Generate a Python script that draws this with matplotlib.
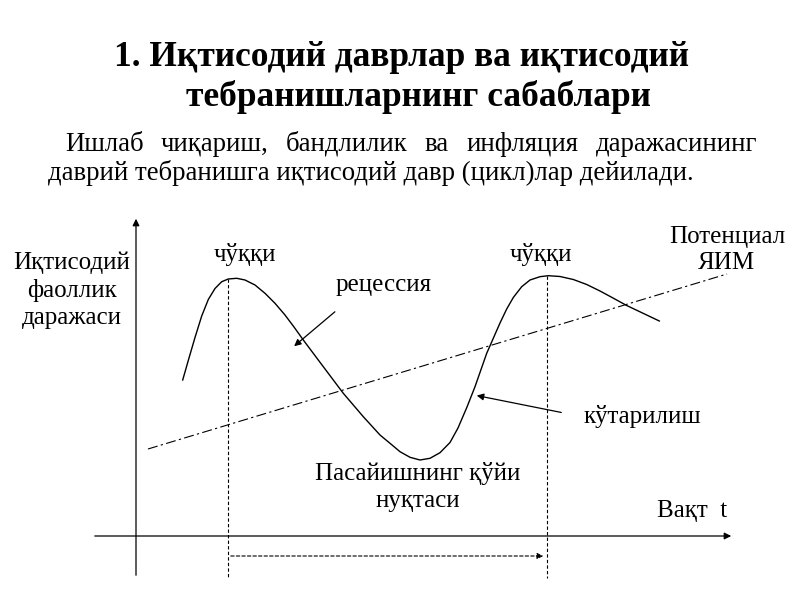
import matplotlib
matplotlib.use("Agg")
import matplotlib.pyplot as plt

plt.rcParams['font.family'] = ['Liberation Serif', 'DejaVu Serif']

# Title and paragraph text
title_lines = ["1. Иқтисодий даврлар ва иқтисодий", "тебранишларнинг сабаблари"]
para_line1 = ["Ишлаб", "чиқариш,", "бандлилик", "ва", "инфляция", "даражасининг"]
para_line2 = "даврий тебранишга иқтисодий давр (цикл)лар дейилади."

# economic activity curve (pixel coords)
curve_x = [182.7, 189, 195, 201.7, 208.3, 215, 221.7, 228.3, 236.7, 245, 255,
           265, 275, 285, 294, 303.3, 323.3, 343.3, 363.3, 380, 390, 400, 410,
           420, 430, 440, 450, 458, 467, 475, 486.7, 500, 506.7, 513.3, 521.7,
           530, 540, 548.3, 560, 573.3, 586.7, 600, 613, 626.7, 646.7, 659.3]
curve_y = [380, 358, 337.5, 316, 299.5, 288.5, 281.7, 279, 278.3, 280, 285,
           293.3, 303.3, 315, 327, 340, 366.7, 393.3, 416.7, 435, 443.3, 451.7, 457.3,
           460, 458.3, 452.7, 442.5, 428, 407, 386.7, 353.3, 323, 309, 297.5, 286.7,
           280, 276.7, 275.7, 276.5, 279.5, 284.5, 291, 298, 305.5, 315, 321]

# potential GDP trend line
trend_x = [148, 727]
trend_y = [449, 274]

# peaks
peak_x = [228, 547]
peak_y = [279, 276]

labels = {
    "ylabel": "Иқтисодий\nфаоллик\nдаражаси",
    "peak": "чўққи",
    "recession": "рецессия",
    "potential": "Потенциал\nЯИМ",
    "rise": "кўтарилиш",
    "trough": "Пасайишнинг қўйи\nнуқтаси",
    "time": "Вақт  t",
}

fig = plt.figure(figsize=(8, 6), dpi=100)
ax = fig.add_axes([0, 0, 1, 1])
ax.set_xlim(0, 800)
ax.set_ylim(600, 0)
ax.axis('off')

# title
ax.text(401, 57, title_lines[0], ha='center', va='center', fontsize=25.5, fontweight='bold')
ax.text(418, 97, title_lines[1], ha='center', va='center', fontsize=25.5, fontweight='bold')

# paragraph, first line justified
fig.canvas.draw()
r = fig.canvas.get_renderer()
words = [ax.text(0, 151, w, ha='left', va='baseline', fontsize=19.3) for w in para_line1]
widths = [w.get_window_extent(r).width for w in words]
x0, x1 = 65, 757
gap = (x1 - x0 - sum(widths)) / (len(words) - 1)
pos = x0
for w, wd in zip(words, widths):
    w.set_x(pos)
    pos += wd + gap
ax.text(48, 180, para_line2, ha='left', va='baseline', fontsize=19.3)

# axes of the diagram
ax.annotate('', xy=(136, 216), xytext=(136, 578),
            arrowprops=dict(arrowstyle='-|>', color='black', lw=0.9, mutation_scale=10))
ax.annotate('', xy=(734, 536), xytext=(92, 536),
            arrowprops=dict(arrowstyle='-|>', color='black', lw=0.9, mutation_scale=10))

# curve and trend
ax.plot(curve_x, curve_y, color='black', lw=1.0)
ax.plot(trend_x, trend_y, color='black', lw=0.8, dashes=(9, 3, 2, 3))

# peak dashed lines
for px, py in zip(peak_x, peak_y):
    ax.plot([px, px], [py, 578], color='black', lw=0.8, dashes=(3, 2))
ax.annotate('', xy=(546, 556), xytext=(228, 556),
            arrowprops=dict(arrowstyle='-|>', color='black', lw=0.8, ls=(0, (3, 2)),
                            mutation_scale=9))

# pointer arrows
ax.annotate('', xy=(292, 348), xytext=(337, 310),
            arrowprops=dict(arrowstyle='-|>', color='black', lw=0.9, mutation_scale=10))
ax.annotate('', xy=(474, 395), xytext=(564, 413),
            arrowprops=dict(arrowstyle='-|>', color='black', lw=0.9, mutation_scale=10))

fs = 18
ax.text(72, 290, labels["ylabel"], ha='center', va='center', fontsize=fs, linespacing=1.3)
ax.text(245, 254, labels["peak"], ha='center', va='center', fontsize=fs)
ax.text(541, 254, labels["peak"], ha='center', va='center', fontsize=fs)
ax.text(384, 285, labels["recession"], ha='center', va='center', fontsize=fs)
ax.text(727, 250, labels["potential"], ha='center', va='center', fontsize=fs, linespacing=1.2)
ax.text(642, 416, labels["rise"], ha='center', va='center', fontsize=fs)
ax.text(418, 487, labels["trough"], ha='center', va='center', fontsize=fs, linespacing=1.3)
ax.text(692, 511, labels["time"], ha='center', va='center', fontsize=fs)

fig.savefig('out.png', dpi=100)
